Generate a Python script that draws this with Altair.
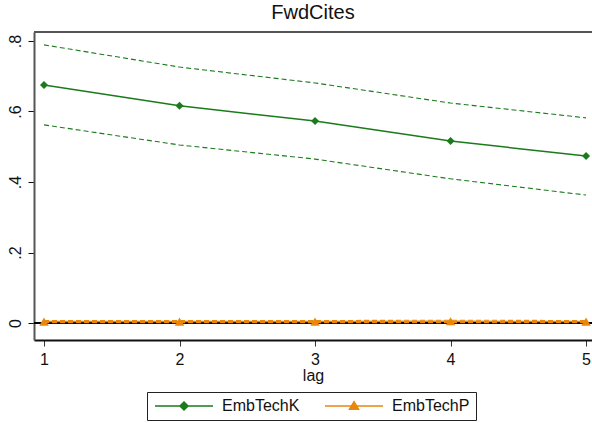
import altair as alt
import pandas as pd

# ---- data ----
lags = [1, 2, 3, 4, 5]
series_names = ["EmbTechK", "EmbTechP"]
k_est = [0.675, 0.616, 0.573, 0.516, 0.474]
k_lo = [0.562, 0.505, 0.465, 0.409, 0.363]
k_hi = [0.789, 0.726, 0.681, 0.624, 0.582]
p_est = [0.004, 0.004, 0.004, 0.005, 0.004]
p_lo = [0.001, 0.001, 0.001, 0.001, 0.001]
p_hi = [0.007, 0.007, 0.007, 0.008, 0.007]
zero_line = [0.0]
y_top = [0.8255]

colors = ["#1b7a1b", "#e8870a"]
color_of = dict(zip(series_names, colors))

rows = []
for name, est, lo, hi in [("EmbTechK", k_est, k_lo, k_hi), ("EmbTechP", p_est, p_lo, p_hi)]:
    for i, lag in enumerate(lags):
        rows.append({"series": name, "lag": lag, "kind": "est", "value": est[i]})
        rows.append({"series": name, "lag": lag, "kind": "lo", "value": lo[i]})
        rows.append({"series": name, "lag": lag, "kind": "hi", "value": hi[i]})
df = pd.DataFrame(rows)
zdf = pd.DataFrame({"y": zero_line})
tdf = pd.DataFrame({"y": y_top})

FONT = "Liberation Sans"
xscale = alt.Scale(domain=[0.926, 5.044], nice=False, zero=False)
yscale = alt.Scale(domain=[-0.0482, 0.8255], nice=False, zero=False)
cscale = alt.Scale(domain=series_names, range=colors)

# legend key glyphs: a line with the marker in its middle (units of 5 px)
PATH_K = "M -1.2 0 L 10.4 0 M 4.6 -0.8 L 5.4 0 L 4.6 0.8 L 3.8 0 Z"
PATH_P = "M -1.2 0 L 10.4 0 M 4.6 -0.85 L 5.5 0.65 L 3.7 0.65 Z"

x_axis = alt.Axis(values=lags, format="d", title="lag", labelFontSize=16, titleFontSize=16,
                  labelFont=FONT, titleFont=FONT, labelColor="#111", titleColor="#111",
                  titleFontWeight="normal", tickSize=6, tickColor="#333", domainColor="#111",
                  domainWidth=2, labelPadding=5, titleY=40, titleBaseline="alphabetic", grid=False)
y_axis = alt.Axis(values=[0, 0.2, 0.4, 0.6, 0.8],
                  labelExpr="datum.value == 0 ? '0' : '.' + round(datum.value * 10)",
                  title=None, labelAngle=270, labelAlign="center", labelBaseline="bottom",
                  labelFontSize=16, labelFont=FONT, labelColor="#111", tickSize=6, tickColor="#111",
                  domainColor="#555", domainWidth=2, labelPadding=5, grid=False)

X = alt.X("lag:Q", scale=xscale, axis=x_axis)
Y = alt.Y("value:Q", scale=yscale, axis=y_axis)

rule = alt.Chart(zdf).mark_rule(color="black", strokeWidth=2).encode(
    y=alt.Y("y:Q", scale=yscale, axis=y_axis)
)
top_rule = alt.Chart(tdf).mark_rule(color="#555", strokeWidth=2).encode(
    y=alt.Y("y:Q", scale=yscale, axis=y_axis)
)

layers = [rule, top_rule]
for name in series_names:
    c = color_of[name]
    layers.append(
        alt.Chart(df).transform_filter(f"datum.kind != 'est' && datum.series == '{name}'")
        .mark_line(strokeDash=[5, 3], strokeWidth=1.1, color=c)
        .encode(x=X, y=Y, detail="kind:N")
    )
    layers.append(
        alt.Chart(df).transform_filter(f"datum.kind == 'est' && datum.series == '{name}'")
        .mark_line(strokeWidth=1.5, color=c)
        .encode(x=X, y=Y)
    )
layers.append(
    alt.Chart(df).transform_filter("datum.kind == 'est' && datum.series == 'EmbTechK'")
    .mark_point(filled=True, opacity=1, shape="diamond", size=64, color=color_of["EmbTechK"])
    .encode(x=X, y=Y)
)
layers.append(
    alt.Chart(df).transform_filter("datum.kind == 'est' && datum.series == 'EmbTechP'")
    .mark_point(filled=True, opacity=1, shape="triangle-up", size=90, color=color_of["EmbTechP"])
    .encode(x=X, y=Y)
)

legend = alt.Legend(
    orient="none", legendX=113, legendY=360, direction="horizontal", title=None,
    symbolSize=100, symbolStrokeWidth=1.5, symbolOpacity=1,
    labelFontSize=16, labelFont=FONT, labelColor="#111", labelOffset=53,
    columnPadding=22, padding=6, strokeColor="#222", fillColor="white",
)

# invisible layer that only carries the legend keys
key = alt.Chart(df).transform_filter("datum.kind == 'est'").mark_point(
    filled=True, opacity=0, size=100, strokeWidth=1.5
).encode(
    x=X, y=Y,
    color=alt.Color("series:N", scale=cscale, legend=legend),
    stroke=alt.Stroke("series:N", scale=cscale, legend=legend),
    shape=alt.Shape("series:N", scale=alt.Scale(domain=series_names, range=[PATH_K, PATH_P]), legend=legend),
)
layers.append(key)

chart = alt.layer(*layers).properties(
    width=558, height=308,
    title=alt.Title("FwdCites", fontSize=20, font=FONT, fontWeight="normal", color="#111",
                    anchor="middle", offset=8),
    autosize=alt.AutoSizeParams(type="none"),
    padding={"left": 34, "top": 32, "right": 0, "bottom": 83},
    background="white",
).configure_view(stroke=None)

chart.save("out.html", embed_options={"renderer": "svg", "actions": False})
